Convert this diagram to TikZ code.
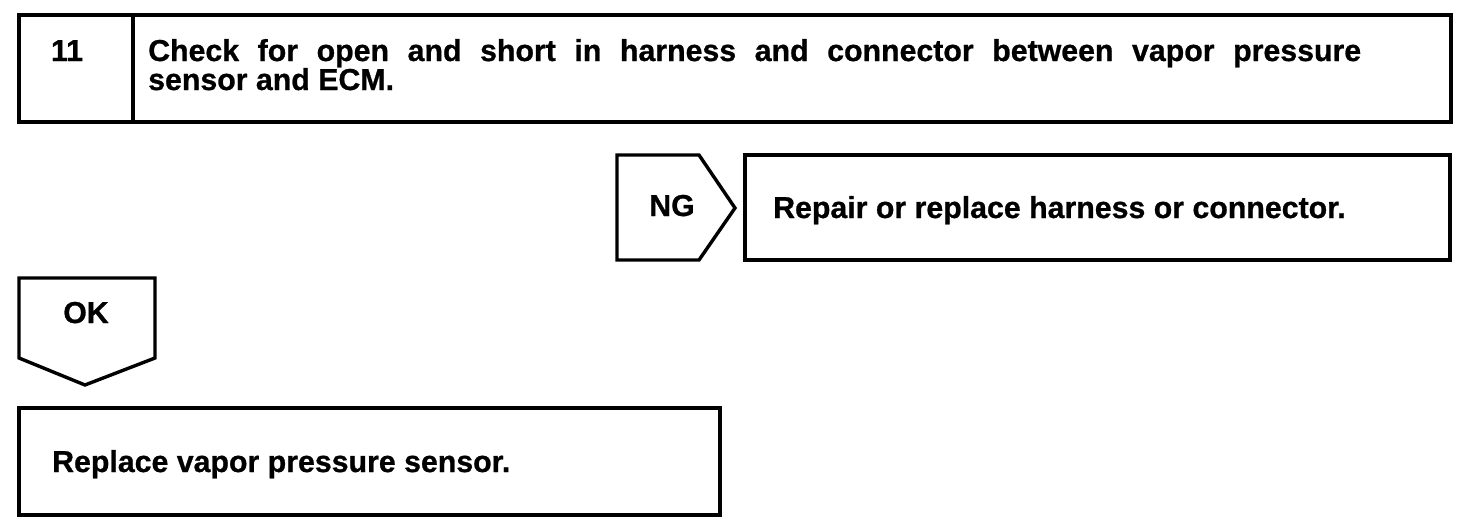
\documentclass[tikz,border=0pt]{standalone}
\usepackage{fontspec}
\setmainfont{Liberation Sans}[BoldFeatures={FakeBold=0.8}]
\begin{document}
\begin{tikzpicture}[x=1pt,y=-1pt,
  frame/.style={draw=black,line width=3.4pt,line join=miter},
  lbl/.style={inner sep=0pt,font=\fontsize{30.3}{31}\selectfont\bfseries}]
\useasboundingbox (0,0) rectangle (1472,530);
% top box
\draw[frame] (19,15) rectangle (1451,122);
\draw[frame] (133,15) -- (133,122);
\node[lbl,anchor=base] (num) at (67,61) {11};
\node[lbl,anchor=base west] (chk1) at (148,61) {\makebox[1213pt][s]{Check for open and short in harness and connector between vapor pressure}};
\node[lbl,anchor=base west] (chk2) at (148,90) {sensor and ECM.};
% NG
\draw[frame] (617,155) -- (699,155) -- (735,208) -- (699,260) -- (617,260) -- cycle;
\node[lbl,anchor=base] (ng) at (672,216) {NG};
\draw[frame] (745,155) rectangle (1450,260);
\node[lbl,anchor=base west] (rep) at (773,218) {Repair or replace harness or connector.};
% OK
\draw[frame] (19,278) -- (155,278) -- (155,358) -- (85,385) -- (19,358) -- cycle;
\node[lbl,anchor=base] (ok) at (86,323) {OK};
\draw[frame] (19,408) rectangle (720,515);
\node[lbl,anchor=base west] (vps) at (52,472) {Replace vapor pressure sensor.};
\end{tikzpicture}
\end{document}
